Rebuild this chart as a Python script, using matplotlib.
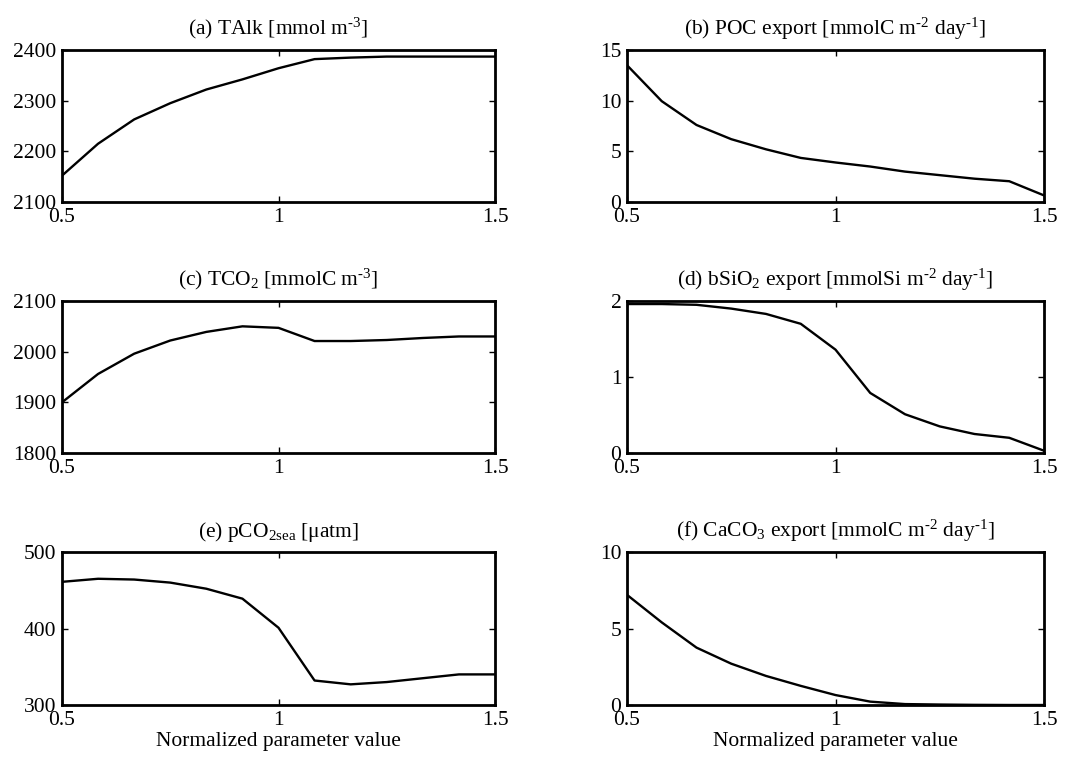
import numpy as np
import matplotlib
matplotlib.use('Agg')
import matplotlib.pyplot as plt

plt.rcParams['font.family'] = ['Liberation Serif', 'DejaVu Serif']
plt.rcParams['mathtext.fontset'] = 'custom'
plt.rcParams['mathtext.rm'] = 'Liberation Serif'
plt.rcParams['mathtext.it'] = 'Liberation Serif:italic'
plt.rcParams['font.size'] = 15.5

# normalized parameter value, 13 runs from 0.5 to 1.5
x = [0.5, 0.5833, 0.6667, 0.75, 0.8333, 0.9167, 1.0, 1.0833, 1.1667, 1.25, 1.3333, 1.4167, 1.5]

talk = [2152, 2215, 2263, 2295, 2322, 2342, 2364, 2382, 2385, 2387, 2387, 2387, 2387]
poc = [13.5, 9.95, 7.6, 6.2, 5.2, 4.35, 3.9, 3.5, 3.0, 2.65, 2.3, 2.05, 0.65]
tco2 = [1900, 1956, 1996, 2022, 2039, 2050, 2047, 2021, 2021, 2023, 2027, 2030, 2030]
bsio2 = [1.96, 1.96, 1.95, 1.9, 1.83, 1.70, 1.36, 0.79, 0.51, 0.35, 0.25, 0.2, 0.03]
pco2 = [461, 465, 464, 460, 452, 439, 401, 332, 327, 330, 335, 340, 340]
caco3 = [7.2, 5.4, 3.75, 2.7, 1.9, 1.25, 0.65, 0.22, 0.06, 0.03, 0.01, 0.0, 0.0]

titles = [r'(a) TAlk [mmol m$^{\text{-3}}$]',
          r'(b) POC export [mmolC m$^{\text{-2}}$ day$^{\text{-1}}$]',
          r'(c) TCO$_{\text{2}}$ [mmolC m$^{\text{-3}}$]',
          r'(d) bSiO$_{\text{2}}$ export [mmolSi m$^{\text{-2}}$ day$^{\text{-1}}$]',
          r'(e) pCO$_{\text{2sea}}$ [μatm]',
          r'(f) CaCO$_{\text{3}}$ export [mmolC m$^{\text{-2}}$ day$^{\text{-1}}$]']
series = [talk, poc, tco2, bsio2, pco2, caco3]
ylims = [(2100, 2400), (0, 15), (1800, 2100), (0, 2), (300, 500), (0, 10)]
yticks = [[2100, 2200, 2300, 2400], [0, 5, 10, 15], [1800, 1900, 2000, 2100],
          [0, 1, 2], [300, 400, 500], [0, 5, 10]]

W, H = 1083, 767
fig = plt.figure(figsize=(W / 100, H / 100), dpi=100)

lefts = [62, 627]
rights = [495, 1044]
tops = [50, 301, 552]
bottoms = [202, 453, 705]

for i in range(6):
    r, c = divmod(i, 2)
    ax = fig.add_axes([lefts[c] / W, 1 - bottoms[r] / H,
                       (rights[c] - lefts[c]) / W, (bottoms[r] - tops[r]) / H])
    ax.plot(x, series[i], color='black', linewidth=1.7)
    ax.set_xlim(0.5, 1.5)
    ax.set_ylim(*ylims[i])
    ax.set_xticks([0.5, 1, 1.5])
    ax.set_xticklabels(['0.5', '1', '1.5'])
    ax.set_yticks(yticks[i])
    ax.tick_params(direction='in', top=True, right=True, length=4, width=1,
                   labelsize=15.5)
    ax.tick_params(axis='x', pad=4)
    ax.tick_params(axis='y', pad=4)
    for s in ax.spines.values():
        s.set_linewidth(2)
    ax.set_title(titles[i], fontsize=15.5, pad=11)
    if r == 2:
        ax.set_xlabel('Normalized parameter value', fontsize=15.5, labelpad=2)

fig.savefig('out.png', dpi=100)
